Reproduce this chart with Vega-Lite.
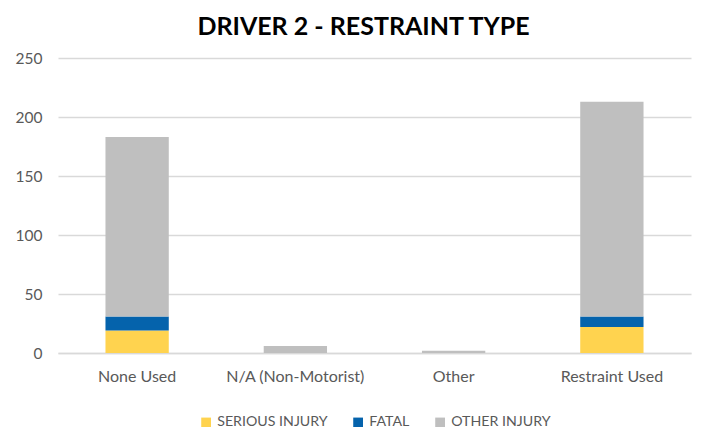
{
  "$schema": "https://vega.github.io/schema/vega-lite/v6.json",
  "autosize": "none",
  "width": 633,
  "height": 295,
  "padding": {"left": 58, "top": 58, "right": 37, "bottom": 74},
  "background": "white",
  "title": {"text": "DRIVER 2 - RESTRAINT TYPE", "font": "Lato", "fontSize": 25, "fontWeight": "bold", "color": "#000000", "anchor": "middle", "offset": 11, "dx": -11},
  "data": {"values": [
    {"type": "None Used", "injury": "SERIOUS INJURY", "ord": 1, "count": 19},
    {"type": "None Used", "injury": "FATAL", "ord": 2, "count": 12},
    {"type": "None Used", "injury": "OTHER INJURY", "ord": 3, "count": 152},
    {"type": "N/A (Non-Motorist)", "injury": "SERIOUS INJURY", "ord": 1, "count": 0},
    {"type": "N/A (Non-Motorist)", "injury": "FATAL", "ord": 2, "count": 0},
    {"type": "N/A (Non-Motorist)", "injury": "OTHER INJURY", "ord": 3, "count": 6},
    {"type": "Other", "injury": "SERIOUS INJURY", "ord": 1, "count": 0},
    {"type": "Other", "injury": "FATAL", "ord": 2, "count": 0},
    {"type": "Other", "injury": "OTHER INJURY", "ord": 3, "count": 2},
    {"type": "Restraint Used", "injury": "SERIOUS INJURY", "ord": 1, "count": 22},
    {"type": "Restraint Used", "injury": "FATAL", "ord": 2, "count": 9},
    {"type": "Restraint Used", "injury": "OTHER INJURY", "ord": 3, "count": 182}
  ]},
  "mark": {"type": "bar"},
  "encoding": {
    "x": {"field": "type", "type": "nominal", "sort": ["None Used", "N/A (Non-Motorist)", "Other", "Restraint Used"],
      "scale": {"paddingInner": 0.6, "paddingOuter": 0.3},
      "axis": {"title": null, "labelAngle": 0, "labelFont": "Lato", "labelFontSize": 16, "labelColor": "#595959", "domainColor": "#D9D9D9", "domainWidth": 1.5, "ticks": false, "labelPadding": 15}},
    "y": {"field": "count", "type": "quantitative", "stack": "zero",
      "scale": {"domain": [0, 250]},
      "axis": {"title": null, "values": [0, 50, 100, 150, 200, 250], "labelFont": "Lato", "labelFontSize": 15.5, "labelColor": "#595959", "domain": false, "ticks": false, "gridColor": "#D9D9D9", "gridWidth": 1.5, "labelPadding": 16}},
    "color": {"field": "injury", "type": "nominal",
      "scale": {"domain": ["SERIOUS INJURY", "FATAL", "OTHER INJURY"], "range": ["#FFD34F", "#0563AC", "#BFBFBF"]},
      "legend": {"title": null, "orient": "none", "legendX": 141, "legendY": 357, "direction": "horizontal", "symbolType": "square", "symbolSize": 95, "symbolStrokeWidth": 0, "labelFont": "Lato", "labelFontSize": 14.2, "labelOffset": 4, "labelColor": "#595959", "columnPadding": 23}},
    "order": {"field": "ord", "type": "quantitative"}
  },
  "config": {"view": {"stroke": null}}
}
